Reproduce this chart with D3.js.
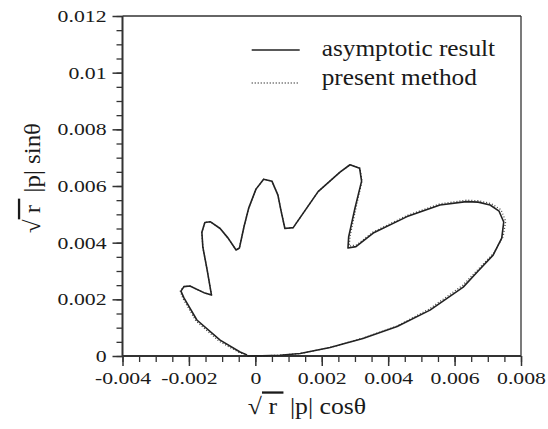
<!DOCTYPE html>
<html>
<head>
<meta charset="utf-8">
<script src="https://cdn.jsdelivr.net/npm/d3@7"></script>
<style>
  body { margin: 0; background: #fff; }
</style>
</head>
<body>
<div id="chart"></div>
<script>
var FONT = "'Liberation Serif', 'Times New Roman', Times, serif";

// tick values / labels
var xTicks = [-0.004, -0.002, 0, 0.002, 0.004, 0.006, 0.008];
var xTickLabels = ["-0.004", "-0.002", "0", "0.002", "0.004", "0.006", "0.008"];
var yTicks = [0, 0.002, 0.004, 0.006, 0.008, 0.01, 0.012];
var yTickLabels = ["0", "0.002", "0.004", "0.006", "0.008", "0.01", "0.012"];

// asymptotic result (solid)
var asymX = [-0.00025, 0.00020, 0.00074, 0.00135, 0.00225, 0.00324, 0.00427, 0.00526, 0.00626, 0.00671,
             0.00716, 0.00742, 0.00748, 0.00734, 0.00707, 0.00671, 0.00635, 0.00556, 0.00457, 0.00355,
             0.00303, 0.00279, 0.00281, 0.00300, 0.00320, 0.00314, 0.00285, 0.00255, 0.00189, 0.00114,
             0.00089, 0.00077, 0.00068, 0.00050, 0.00025, 0.00002, -0.00020, -0.00034, -0.00048, -0.00058,
             -0.00082, -0.00106, -0.00136, -0.00152, -0.00161, -0.00158, -0.00145, -0.00132, -0.00152, -0.00197,
             -0.00215, -0.00224, -0.00215, -0.00176, -0.00106, -0.00046, -0.00025];
var asymY = [0, 0.000007, 0.000025, 0.000088, 0.00030, 0.00062, 0.00104, 0.00162, 0.00243, 0.00300,
             0.00356, 0.00416, 0.00473, 0.00511, 0.00533, 0.00543, 0.00545, 0.00533, 0.00492, 0.00434,
             0.00386, 0.00381, 0.00420, 0.00522, 0.00617, 0.00663, 0.00675, 0.00649, 0.00580, 0.00453,
             0.00450, 0.00515, 0.00568, 0.00617, 0.00624, 0.00589, 0.00522, 0.00457, 0.00381, 0.00374,
             0.00416, 0.00450, 0.00474, 0.00471, 0.00437, 0.00384, 0.00303, 0.00215, 0.00222, 0.00247,
             0.00245, 0.00229, 0.00205, 0.00127, 0.00056, 0.00014, 0.00004];

// present method (dotted)
var presX = [-0.00025, 0.00020, 0.00074, 0.00135, 0.00225, 0.00324, 0.00427, 0.00524, 0.00624, 0.00671,
             0.00718, 0.00746, 0.00754, 0.00740, 0.00710, 0.00671, 0.00635, 0.00556, 0.00457, 0.00355,
             0.00305, 0.00283, 0.00285, 0.00303, 0.00321, 0.00315, 0.00285, 0.00255, 0.00189, 0.00114,
             0.00089, 0.00077, 0.00068, 0.00050, 0.00025, 0.00002, -0.00020, -0.00034, -0.00048, -0.00058,
             -0.00082, -0.00106, -0.00136, -0.00152, -0.00161, -0.00158, -0.00145, -0.00132, -0.00152, -0.00197,
             -0.00216, -0.00226, -0.00218, -0.00179, -0.00109, -0.00048, -0.00025];
var presY = [0, 0.000007, 0.000025, 0.000088, 0.00030, 0.00063, 0.00106, 0.00166, 0.00249, 0.00306,
             0.00363, 0.00421, 0.00475, 0.00516, 0.00538, 0.00548, 0.00550, 0.00537, 0.00496, 0.00438,
             0.00392, 0.00388, 0.00422, 0.00522, 0.00617, 0.00663, 0.00675, 0.00649, 0.00580, 0.00453,
             0.00450, 0.00515, 0.00568, 0.00617, 0.00624, 0.00589, 0.00522, 0.00457, 0.00381, 0.00374,
             0.00416, 0.00450, 0.00474, 0.00471, 0.00437, 0.00384, 0.00303, 0.00215, 0.00222, 0.00247,
             0.00245, 0.00229, 0.00203, 0.00124, 0.00052, 0.00012, 0.00004];

var asym = asymX.map(function(d, i) { return [d, asymY[i]]; });
var pres = presX.map(function(d, i) { return [d, presY[i]]; });

var margin = {top: 16, right: 27, bottom: 73, left: 122.5},
    width = 548 - margin.left - margin.right,
    height = 429 - margin.top - margin.bottom;

var svg = d3.select("#chart")
  .append("svg")
    .attr("width", 548)
    .attr("height", 429)
    .style("font-family", FONT)
  .append("g")
    .attr("transform", "translate(" + margin.left + "," + margin.top + ")");

var x = d3.scaleLinear().domain([-0.004, 0.008]).range([0, width]);
var y = d3.scaleLinear().domain([0, 0.012]).range([height, 0]);

var minorX = d3.range(-0.004, 0.00801, 0.0005);
var minorY = d3.range(0, 0.01201, 0.0005);

// minor ticks
svg.append("g")
  .attr("transform", "translate(0," + height + ")")
  .call(d3.axisBottom(x).tickValues(minorX).tickSize(6).tickFormat(""))
  .call(g => g.select(".domain").remove())
  .selectAll("line").attr("stroke", "#333").attr("stroke-width", 1.3);
svg.append("g")
  .call(d3.axisLeft(y).tickValues(minorY).tickSize(6).tickFormat(""))
  .call(g => g.select(".domain").remove())
  .selectAll("line").attr("stroke", "#333").attr("stroke-width", 1.3);

// major ticks
var xAxis = svg.append("g")
  .attr("transform", "translate(0," + height + ")")
  .call(d3.axisBottom(x).tickValues(xTicks).tickSize(10).tickPadding(5)
        .tickFormat(function(d, i) { return xTickLabels[i]; }));
var yAxis = svg.append("g")
  .call(d3.axisLeft(y).tickValues(yTicks).tickSize(10).tickPadding(6)
        .tickFormat(function(d, i) { return yTickLabels[i]; }));

[xAxis, yAxis].forEach(function(a) {
  a.attr("font-family", null);
  a.select(".domain").remove();
  a.selectAll("line").attr("stroke", "#333").attr("stroke-width", 1.5);
  a.selectAll("text")
    .style("font-family", FONT)
    .style("font-size", "17px")
    .attr("fill", "#1a1a1a");
});
xAxis.selectAll("text").attr("transform", "scale(1.28,1)").attr("dy", "0.78em");
yAxis.selectAll("text").attr("transform", "scale(1.28,1)").attr("x", -16 / 1.28);

// frame
svg.append("line").attr("x1", 0).attr("x2", width).attr("y1", height).attr("y2", height)
  .attr("stroke", "#333").attr("stroke-width", 2);
svg.append("line").attr("x1", 0).attr("x2", 0).attr("y1", 0).attr("y2", height)
  .attr("stroke", "#333").attr("stroke-width", 2);
svg.append("line").attr("x1", 0).attr("x2", width).attr("y1", 0).attr("y2", 0)
  .attr("stroke", "#333").attr("stroke-width", 1.3);
svg.append("line").attr("x1", width).attr("x2", width).attr("y1", 0).attr("y2", height)
  .attr("stroke", "#333").attr("stroke-width", 1.3);

var line = d3.line()
  .x(function(d) { return x(d[0]); })
  .y(function(d) { return y(d[1]); });

svg.append("path")
  .datum(pres)
  .attr("d", line)
  .attr("fill", "none")
  .attr("stroke", "#444")
  .attr("stroke-width", 1.3)
  .attr("stroke-dasharray", "1,2");

svg.append("path")
  .datum(asym)
  .attr("d", line)
  .attr("fill", "none")
  .attr("stroke", "#222")
  .attr("stroke-width", 1.6)
  .attr("stroke-linejoin", "round");

// legend
var lg = svg.append("g").attr("transform", "translate(" + (251.7 - margin.left) + "," + (50 - margin.top) + ")");
lg.append("line").attr("x1", 0).attr("x2", 48).attr("y1", 0).attr("y2", 0)
  .attr("stroke", "#222").attr("stroke-width", 1.5);
lg.append("line").attr("x1", 0).attr("x2", 48).attr("y1", 33).attr("y2", 33)
  .attr("stroke", "#444").attr("stroke-width", 1.3).attr("stroke-dasharray", "1,2");
lg.append("text").attr("transform", "translate(70,6) scale(1.1,1)")
  .style("font-family", FONT).style("font-size", "23px").attr("fill", "#1a1a1a").text("asymptotic result");
lg.append("text").attr("transform", "translate(70,35) scale(1.1,1)")
  .style("font-family", FONT).style("font-size", "23px").attr("fill", "#1a1a1a").text("present method");

// axis titles
var xt = svg.append("text")
  .attr("transform", "translate(" + (307 - margin.left) + "," + (414 - margin.top) + ") scale(1.12,1)")
  .attr("text-anchor", "middle")
  .attr("fill", "#1a1a1a")
  .style("font-family", FONT)
  .style("font-size", "23px");
xt.append("tspan").text("\u221A");
xt.append("tspan").style("text-decoration", "overline").text(" r ");
xt.append("tspan").text("\u00A0|p| cos\u03B8");

var yt = svg.append("text")
  .attr("transform", "translate(" + (40 - margin.left) + "," + (178 - margin.top) + ") rotate(-90) scale(1.08,1)")
  .attr("text-anchor", "middle")
  .attr("fill", "#1a1a1a")
  .style("font-family", FONT)
  .style("font-size", "23px");
yt.append("tspan").text("\u221A");
yt.append("tspan").style("text-decoration", "overline").text(" r ");
yt.append("tspan").text("\u00A0|p| sin\u03B8");
</script>
</body>
</html>
